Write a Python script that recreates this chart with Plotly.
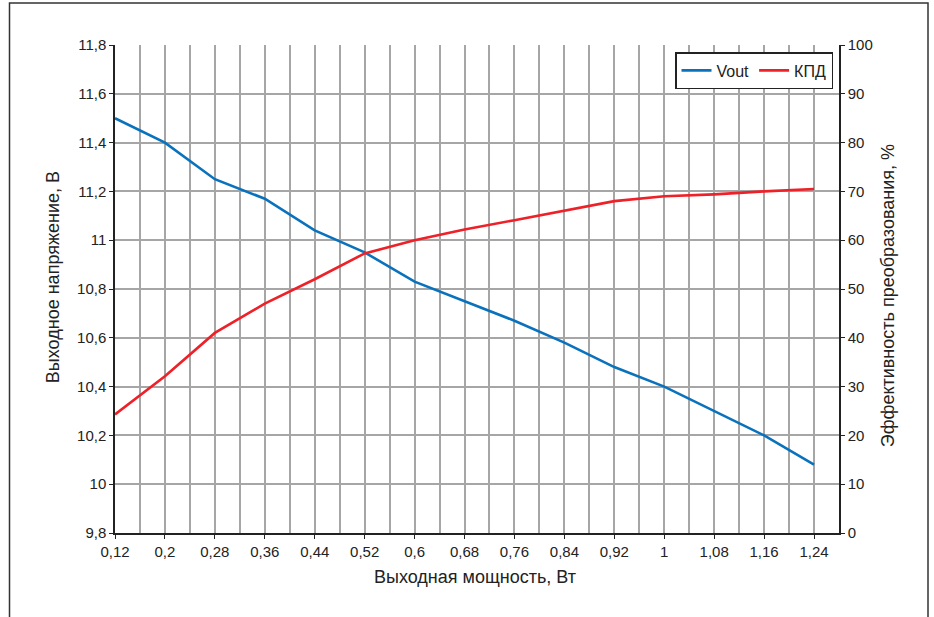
import plotly.graph_objects as go

# Data
power_w = [0.12, 0.2, 0.28, 0.36, 0.44, 0.52, 0.6, 0.68, 0.76, 0.84, 0.92, 1.0, 1.08, 1.16, 1.24]
vout_v = [11.5, 11.4, 11.25, 11.17, 11.04, 10.95, 10.83, 10.75, 10.67, 10.58, 10.48, 10.4, 10.3, 10.2, 10.08]
efficiency_pct = [24.3, 32.1, 41.0, 47.0, 52.0, 57.3, 60.0, 62.2, 64.1, 66.0, 68.0, 69.0, 69.4, 70.0, 70.5]

x_tickvals = [0.12, 0.2, 0.28, 0.36, 0.44, 0.52, 0.6, 0.68, 0.76, 0.84, 0.92, 1.0, 1.08, 1.16, 1.24]
x_ticktext = ["0,12", "0,2", "0,28", "0,36", "0,44", "0,52", "0,6", "0,68", "0,76", "0,84", "0,92", "1", "1,08", "1,16", "1,24"]
x_minor_vals = [0.16, 0.24, 0.32, 0.4, 0.48, 0.56, 0.64, 0.72, 0.8, 0.88, 0.96, 1.04, 1.12, 1.2]
y_tickvals = [9.8, 10.0, 10.2, 10.4, 10.6, 10.8, 11.0, 11.2, 11.4, 11.6, 11.8]
y_ticktext = ["9,8", "10", "10,2", "10,4", "10,6", "10,8", "11", "11,2", "11,4", "11,6", "11,8"]
y2_tickvals = [0, 10, 20, 30, 40, 50, 60, 70, 80, 90, 100]
y2_ticktext = ["0", "10", "20", "30", "40", "50", "60", "70", "80", "90", "100"]

FONT = "Liberation Sans, Arial, sans-serif"
GRID = "#a6a6a6"
INK = "#222222"

fig = go.Figure()
fig.add_trace(go.Scatter(x=power_w, y=vout_v, name="Vout", mode="lines",
                         line=dict(color="#0a72bd", width=2.6), yaxis="y"))
fig.add_trace(go.Scatter(x=power_w, y=efficiency_pct, name="КПД", mode="lines",
                         line=dict(color="#ee2028", width=2.6), yaxis="y2"))

# plot area target (screen px): x 115..839, y 45..532.7 ; body margin removed via post_script
W, H = 934, 617
PL, PR, PT, PB = 115, 839, 45, 532.7
pw = PR - PL
ph = PB - PT
L = PL
T = PT
R = W - L - pw
B = H - T - ph


def px(sx):
    return (sx - PL) / pw


def py(sy):
    return (PB - sy) / ph


fig.update_layout(
    width=W, height=H,
    margin=dict(l=L, r=R, t=T, b=B, autoexpand=False),
    paper_bgcolor="white", plot_bgcolor="white",
    font=dict(family=FONT, size=15, color=INK),
    showlegend=True,
    legend=dict(orientation="h", x=px(833), xanchor="right",
                y=py(52), yanchor="top",
                bordercolor=INK, borderwidth=1.5, bgcolor="white",
                font=dict(size=16), tracegroupgap=0),
    xaxis=dict(range=[0.12, 1.28], tickvals=x_tickvals, ticktext=x_ticktext,
               showgrid=True, gridcolor=GRID, gridwidth=1.5,
               minor=dict(tickvals=x_minor_vals, showgrid=True, gridcolor=GRID, gridwidth=1.5, ticks=""),
               showline=True, linecolor=INK, linewidth=1.5,
               ticks="outside", ticklen=4, tickcolor=INK, zeroline=False,
               tickfont=dict(size=15)),
    yaxis=dict(range=[9.8, 11.8], tickvals=y_tickvals, ticktext=y_ticktext,
               showgrid=True, gridcolor=GRID, gridwidth=1.5,
               showline=True, linecolor=INK, linewidth=1.5,
               ticks="outside", ticklen=4, tickcolor=INK, zeroline=False,
               tickfont=dict(size=15)),
    yaxis2=dict(range=[0, 100], tickvals=y2_tickvals, ticktext=y2_ticktext,
                overlaying="y", side="right", showgrid=False,
                showline=True, linecolor=INK, linewidth=1.5,
                ticks="outside", ticklen=4, tickcolor=INK, zeroline=False,
                tickfont=dict(size=15)),
)

fig.add_annotation(text="Выходное напряжение, В", xref="paper", yref="paper",
                   x=px(53), y=py(277), xanchor="center", yanchor="middle",
                   textangle=-90, showarrow=False,
                   font=dict(size=18, family=FONT, color=INK))
fig.add_annotation(text="Эффективность преобразования, %", xref="paper", yref="paper",
                   x=px(888), y=py(295), xanchor="center", yanchor="middle",
                   textangle=-90, showarrow=False,
                   font=dict(size=18, family=FONT, color=INK))
fig.add_annotation(text="Выходная мощность, Вт", xref="paper", yref="paper",
                   x=px(475), y=py(577), xanchor="center", yanchor="middle",
                   showarrow=False,
                   font=dict(size=18, family=FONT, color=INK))

# outer frame
fig.add_shape(type="rect", xref="paper", yref="paper",
              x0=px(9.5), x1=px(928), y0=py(640), y1=py(3),
              line=dict(color="#333333", width=1.5), fillcolor="rgba(0,0,0,0)", layer="below")

fig.write_html("out.html",
               config={"displayModeBar": False},
               post_script="document.body.style.margin='0px';document.body.style.overflow='hidden';")
